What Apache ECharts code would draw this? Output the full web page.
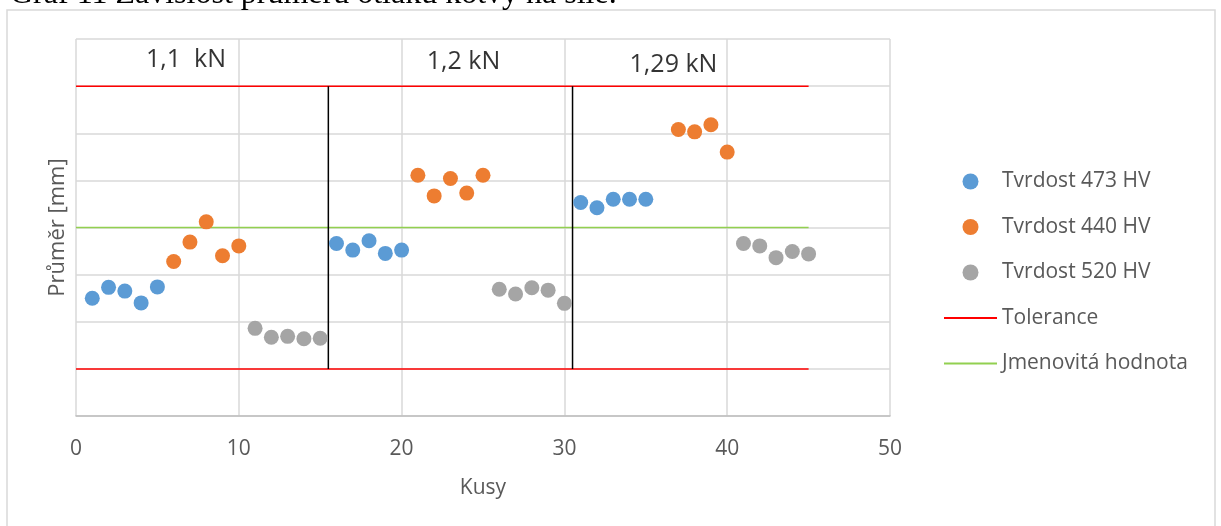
<!DOCTYPE html>
<html>
<head>
<meta charset="utf-8">
<script src="https://cdn.jsdelivr.net/npm/echarts@6/dist/echarts.min.js"></script>
<style>
  html, body { margin: 0; padding: 0; background: #fff; }
  #box { width: 1221px; height: 526px; }
</style>
</head>
<body>
<div id="box"></div>
<script>
// data (y axis has no labels, scale 0..8)
const x473 = [1, 2, 3, 4, 5, 16, 17, 18, 19, 20, 31, 32, 33, 34, 35]
const y473 = [2.50, 2.73, 2.65, 2.40, 2.74, 3.66, 3.52, 3.72, 3.45, 3.52, 4.53, 4.42, 4.60, 4.60, 4.60]
const x440 = [6, 7, 8, 9, 10, 21, 22, 23, 24, 25, 37, 38, 39, 40]
const y440 = [3.28, 3.69, 4.12, 3.40, 3.61, 5.11, 4.67, 5.04, 4.73, 5.11, 6.08, 6.03, 6.18, 5.60]
const x520 = [11, 12, 13, 14, 15, 26, 27, 28, 29, 30, 41, 42, 43, 44, 45]
const y520 = [1.86, 1.67, 1.69, 1.64, 1.65, 2.69, 2.59, 2.72, 2.67, 2.39, 3.66, 3.61, 3.36, 3.49, 3.44]
const toleranceUpper = 7
const toleranceLower = 1
const nominal = 4
const lineStartX = 0
const lineEndX = 45
const boundaries = [15.5, 30.5]
const forceText = ['1,1  kN', '1,2 kN', '1,29 kN']
const forceX = [6.76, 23.8, 36.7]
const forceY = [7.55, 7.52, 7.45]

const pts = (xs, ys) => xs.map((x, i) => [x, ys[i]])
const font = '"Open Sans", "Noto Sans", sans-serif'
const grey = '#595959'

const myChart = echarts.init(document.getElementById('box'))

const series = [
  { name: 'Tvrdost 473 HV', type: 'scatter', symbolSize: 15, itemStyle: { color: '#5B9BD5', opacity: 1 }, data: pts(x473, y473), z: 5 },
  { name: 'Tvrdost 440 HV', type: 'scatter', symbolSize: 15, itemStyle: { color: '#ED7D31', opacity: 1 }, data: pts(x440, y440), z: 5 },
  { name: 'Tvrdost 520 HV', type: 'scatter', symbolSize: 15, itemStyle: { color: '#A5A5A5', opacity: 1 }, data: pts(x520, y520), z: 5 },
  { name: 'Tolerance', type: 'line', symbol: 'none', itemStyle: { color: '#FF0000', opacity: 0 },
    lineStyle: { color: '#FF0000', width: 1.5 },
    data: [[lineStartX, toleranceUpper], [lineEndX, toleranceUpper]] },
  { name: 'Tolerance', type: 'line', symbol: 'none', itemStyle: { color: '#FF0000', opacity: 0 },
    lineStyle: { color: '#FF0000', width: 1.5 },
    data: [[lineStartX, toleranceLower], [lineEndX, toleranceLower]] },
  { name: 'Jmenovitá hodnota', type: 'line', symbol: 'none', itemStyle: { color: '#92D050', opacity: 0 },
    lineStyle: { color: '#92D050', width: 1.5 },
    data: [[lineStartX, nominal], [lineEndX, nominal]] }
]
// black separators between force groups
boundaries.forEach((b, i) => {
  series.push({ name: 'hranice' + i, type: 'line', symbol: 'none', silent: true,
    lineStyle: { color: '#000', width: 1.5 }, data: [[b, toleranceLower], [b, toleranceUpper]], z: 3 })
})
// force labels
series.push({
  name: 'sila', type: 'scatter', symbolSize: 0, silent: true,
  data: forceText.map((t, i) => [forceX[i], forceY[i], t]),
  label: { show: true, position: 'inside', formatter: p => p.value[2], color: '#000', fontSize: 25, fontFamily: font }
})

const option = {
  animation: false,
  backgroundColor: '#fff',
  graphic: [
    { type: 'rect', z: -10, shape: { x: 7, y: 10, width: 1208, height: 540 },
      style: { fill: '#fff', stroke: '#d9d9d9', lineWidth: 1.5 } },
    { type: 'text', x: 10, y: 10.5,
      style: { text: 'Graf 11 Závislost průměru otlaku kotvy na síle.', font: '32px "Liberation Serif", serif',
        fill: '#000', verticalAlign: 'bottom' } }
  ],
  grid: { left: 76, right: 331, top: 39, bottom: 110 },
  legend: {
    orient: 'vertical', left: 938, top: 166, itemGap: 24.5, itemWidth: 53, itemHeight: 16,
    selectedMode: false,
    data: ['Tvrdost 473 HV', 'Tvrdost 440 HV', 'Tvrdost 520 HV', 'Tolerance', 'Jmenovitá hodnota'],
    textStyle: { fontSize: 21, color: grey, fontFamily: font }
  },
  xAxis: {
    type: 'value', min: 0, max: 50, interval: 10,
    name: 'Kusy', nameLocation: 'middle', nameGap: 62,
    nameTextStyle: { fontSize: 21, color: grey, fontFamily: font },
    axisLine: { lineStyle: { color: '#bfbfbf', width: 1.5 } },
    axisTick: { show: false },
    axisLabel: { fontSize: 21, color: grey, fontFamily: font, margin: 23 },
    splitLine: { lineStyle: { color: '#d9d9d9', width: 1.5 } }
  },
  yAxis: {
    type: 'value', min: 0, max: 8, interval: 1,
    name: 'Průměr [mm]', nameLocation: 'middle', nameGap: 7, nameRotate: 90,
    nameTextStyle: { fontSize: 22, color: grey, fontFamily: font },
    axisLine: { show: false },
    axisTick: { show: false },
    axisLabel: { show: false },
    splitLine: { lineStyle: { color: '#d9d9d9', width: 1.5 } }
  },
  series: series
}
myChart.setOption(option)
</script>
</body>
</html>
